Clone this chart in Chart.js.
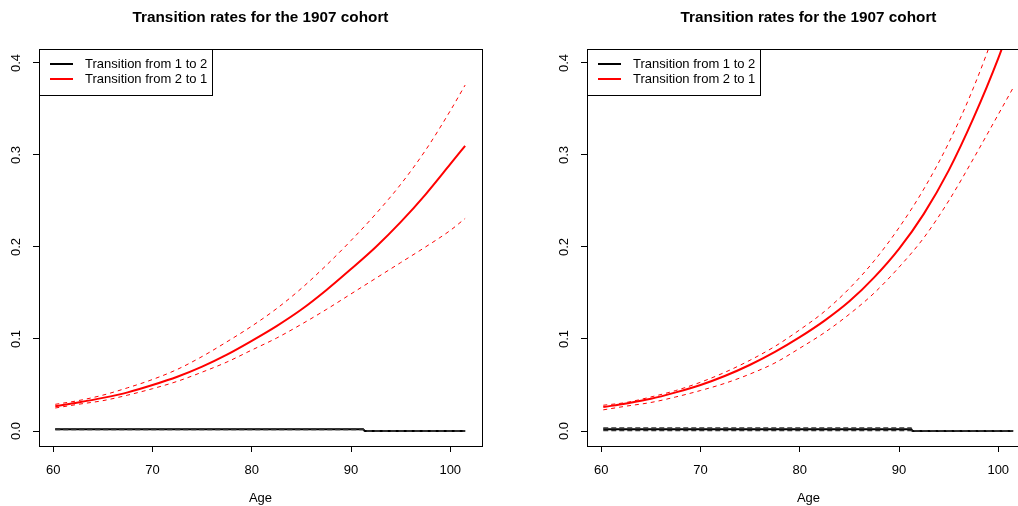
<!DOCTYPE html>
<html lang="en">
<head>
    <meta charset="UTF-8">
    <title>Transition rates for the 1907 cohort</title>
    <script src="https://cdn.jsdelivr.net/npm/chart.js"></script>
    <style>
        html, body { margin: 0; padding: 0; background: #fff; }
        .wrap { position: relative; width: 1018px; height: 506px; overflow: hidden; }
        #leftChart { position: absolute; left: 0; top: 0; }
        #rightChart { position: absolute; left: 520px; top: 0; }
    </style>
</head>
<body>
<div class="wrap">
    <canvas id="leftChart" width="520" height="506"></canvas>
    <canvas id="rightChart" width="530" height="506"></canvas>
</div>

<script>
// ---- data ----
const titleText = "Transition rates for the 1907 cohort";
const xLabel = "Age";
const legendLabels = ["Transition from 1 to 2", "Transition from 2 to 1"];
const xTicks = [60, 70, 80, 90, 100];
const yTicks = [0, 0.1, 0.2, 0.3, 0.4];

// transition 2 -> 1 (red curves)
const ages = [60.2, 62.5, 65, 67.5, 70, 72.5, 75, 77.5, 80, 82.5, 85, 87.5, 90, 92.5, 95, 97.5, 100, 101.5];
const leftRate21  = [0.027, 0.031, 0.036, 0.042, 0.050, 0.059, 0.070, 0.083, 0.098, 0.114, 0.132, 0.153, 0.176, 0.200, 0.227, 0.257, 0.290, 0.310];
const leftUpper21 = [0.029, 0.033, 0.039, 0.047, 0.056, 0.067, 0.081, 0.097, 0.114, 0.133, 0.155, 0.180, 0.207, 0.236, 0.268, 0.305, 0.348, 0.376];
const leftLower21 = [0.025, 0.029, 0.033, 0.039, 0.046, 0.054, 0.064, 0.075, 0.088, 0.101, 0.116, 0.132, 0.149, 0.166, 0.183, 0.200, 0.218, 0.231];
const rightRate21  = [0.026, 0.030, 0.035, 0.042, 0.050, 0.060, 0.072, 0.086, 0.102, 0.120, 0.141, 0.167, 0.198, 0.236, 0.283, 0.340, 0.405, 0.450];
const rightUpper21 = [0.028, 0.031, 0.037, 0.044, 0.053, 0.064, 0.077, 0.092, 0.110, 0.130, 0.155, 0.185, 0.221, 0.263, 0.313, 0.373, 0.445, 0.495];
const rightLower21 = [0.023, 0.027, 0.031, 0.037, 0.044, 0.052, 0.062, 0.074, 0.090, 0.107, 0.127, 0.150, 0.178, 0.210, 0.250, 0.296, 0.344, 0.373];

// transition 1 -> 2 (black step)
const stepAges = [60.2, 91.2, 91.4, 101.5];
const leftRate12  = [0.0019, 0.0019, 0.0000, 0.0000];
const leftUpper12 = [0.0022, 0.0022, 0.0001, 0.0001];
const leftLower12 = [0.0016, 0.0016, 0.0000, 0.0000];
const rightRate12  = [0.0019, 0.0019, 0.0000, 0.0000];
const rightUpper12 = [0.0033, 0.0033, 0.0002, 0.0002];
const rightLower12 = [0.0006, 0.0006, 0.0000, 0.0000];

const FONT = "'Liberation Sans', Arial, Helvetica, sans-serif";

function pts(xs, ys) {
    return xs.map((x, i) => ({ x: x, y: ys[i] }));
}

function lineSet(xs, ys, color, width, dash) {
    return {
        data: pts(xs, ys),
        borderColor: color,
        borderWidth: width,
        borderDash: dash || [],
        pointRadius: 0,
        fill: false,
        cubicInterpolationMode: 'monotone'
    };
}

// R-ish frame, title, rotated y labels and legend box
const rFrame = {
    id: 'rFrame',
    afterDraw(chart) {
        const ctx = chart.ctx;
        const a = chart.chartArea;
        const ys = chart.scales.y;
        ctx.save();
        ctx.strokeStyle = '#000';
        ctx.lineWidth = 1;
        ctx.setLineDash([]);
        ctx.strokeRect(Math.round(a.left) + 0.5, Math.round(a.top) + 0.5,
            Math.round(a.right - a.left), Math.round(a.bottom - a.top));

        ctx.fillStyle = '#000';
        ctx.font = 'bold 15.3px ' + FONT;
        ctx.textAlign = 'center';
        ctx.textBaseline = 'middle';
        ctx.fillText(titleText, (a.left + a.right) / 2, 18);

        ctx.font = '13px ' + FONT;
        yTicks.forEach(v => {
            ctx.save();
            ctx.translate(a.left - 23, ys.getPixelForValue(v));
            ctx.rotate(-Math.PI / 2);
            ctx.fillText(v.toFixed(1), 0, 0);
            ctx.restore();
        });

        // legend
        const lx = Math.round(a.left) + 0.5, ly = Math.round(a.top) + 0.5;
        ctx.fillStyle = '#fff';
        ctx.fillRect(lx, ly, 173, 46);
        ctx.strokeStyle = '#000';
        ctx.strokeRect(lx, ly, 173, 46);
        const colors = ['#000', '#ff0000'];
        legendLabels.forEach((lab, i) => {
            const yy = a.top + 15 + i * 15;
            ctx.strokeStyle = colors[i];
            ctx.lineWidth = 2;
            ctx.beginPath();
            ctx.moveTo(a.left + 11, yy);
            ctx.lineTo(a.left + 34, yy);
            ctx.stroke();
            ctx.fillStyle = '#000';
            ctx.textAlign = 'left';
            ctx.fillText(lab, a.left + 46, yy + 0.5);
        });
        ctx.restore();
    }
};

function makePanel(id, yAxisWidth, padRight, rate21, up21, lo21, rate12, up12, lo12) {
    const axisGrid = { drawOnChartArea: false, drawTicks: true, tickLength: 6, color: '#000', lineWidth: 1 };
    return new Chart(document.getElementById(id), {
        type: 'line',
        data: {
            datasets: [
                lineSet(stepAges, up12, '#333', 1.5, [5, 3]),
                lineSet(stepAges, lo12, '#333', 1.5, [5, 3]),
                lineSet(stepAges, rate12, '#000', 2),
                lineSet(ages, up21, '#ff0000', 1, [4, 4]),
                lineSet(ages, lo21, '#ff0000', 1, [4, 4]),
                lineSet(ages, rate21, '#ff0000', 2)
            ]
        },
        options: {
            responsive: false,
            animation: false,
            layout: { padding: { top: 49, right: padRight, left: 0, bottom: 0 } },
            plugins: { legend: { display: false }, title: { display: false }, tooltip: { enabled: false } },
            scales: {
                x: {
                    type: 'linear',
                    min: 58.56,
                    max: 103.2,
                    grid: axisGrid,
                    border: { display: false },
                    afterBuildTicks: s => { s.ticks = xTicks.map(v => ({ value: v })); },
                    afterFit: s => { s.height = 60; },
                    ticks: { color: '#000', font: { family: FONT, size: 13 }, padding: 11, maxRotation: 0 },
                    title: { display: true, text: xLabel, color: '#000', font: { family: FONT, size: 13 }, padding: { top: 0, bottom: 0 } }
                },
                y: {
                    type: 'linear',
                    min: -0.0163,
                    max: 0.4152,
                    grid: axisGrid,
                    border: { display: false },
                    afterBuildTicks: s => { s.ticks = yTicks.map(v => ({ value: v })); },
                    afterFit: s => { s.width = yAxisWidth; },
                    ticks: { display: false }
                }
            }
        },
        plugins: [rFrame]
    });
}

makePanel('leftChart', 39, 38, leftRate21, leftUpper21, leftLower21, leftRate12, leftUpper12, leftLower12);
makePanel('rightChart', 67, 20, rightRate21, rightUpper21, rightLower21, rightRate12, rightUpper12, rightLower12);
</script>
</body>
</html>
